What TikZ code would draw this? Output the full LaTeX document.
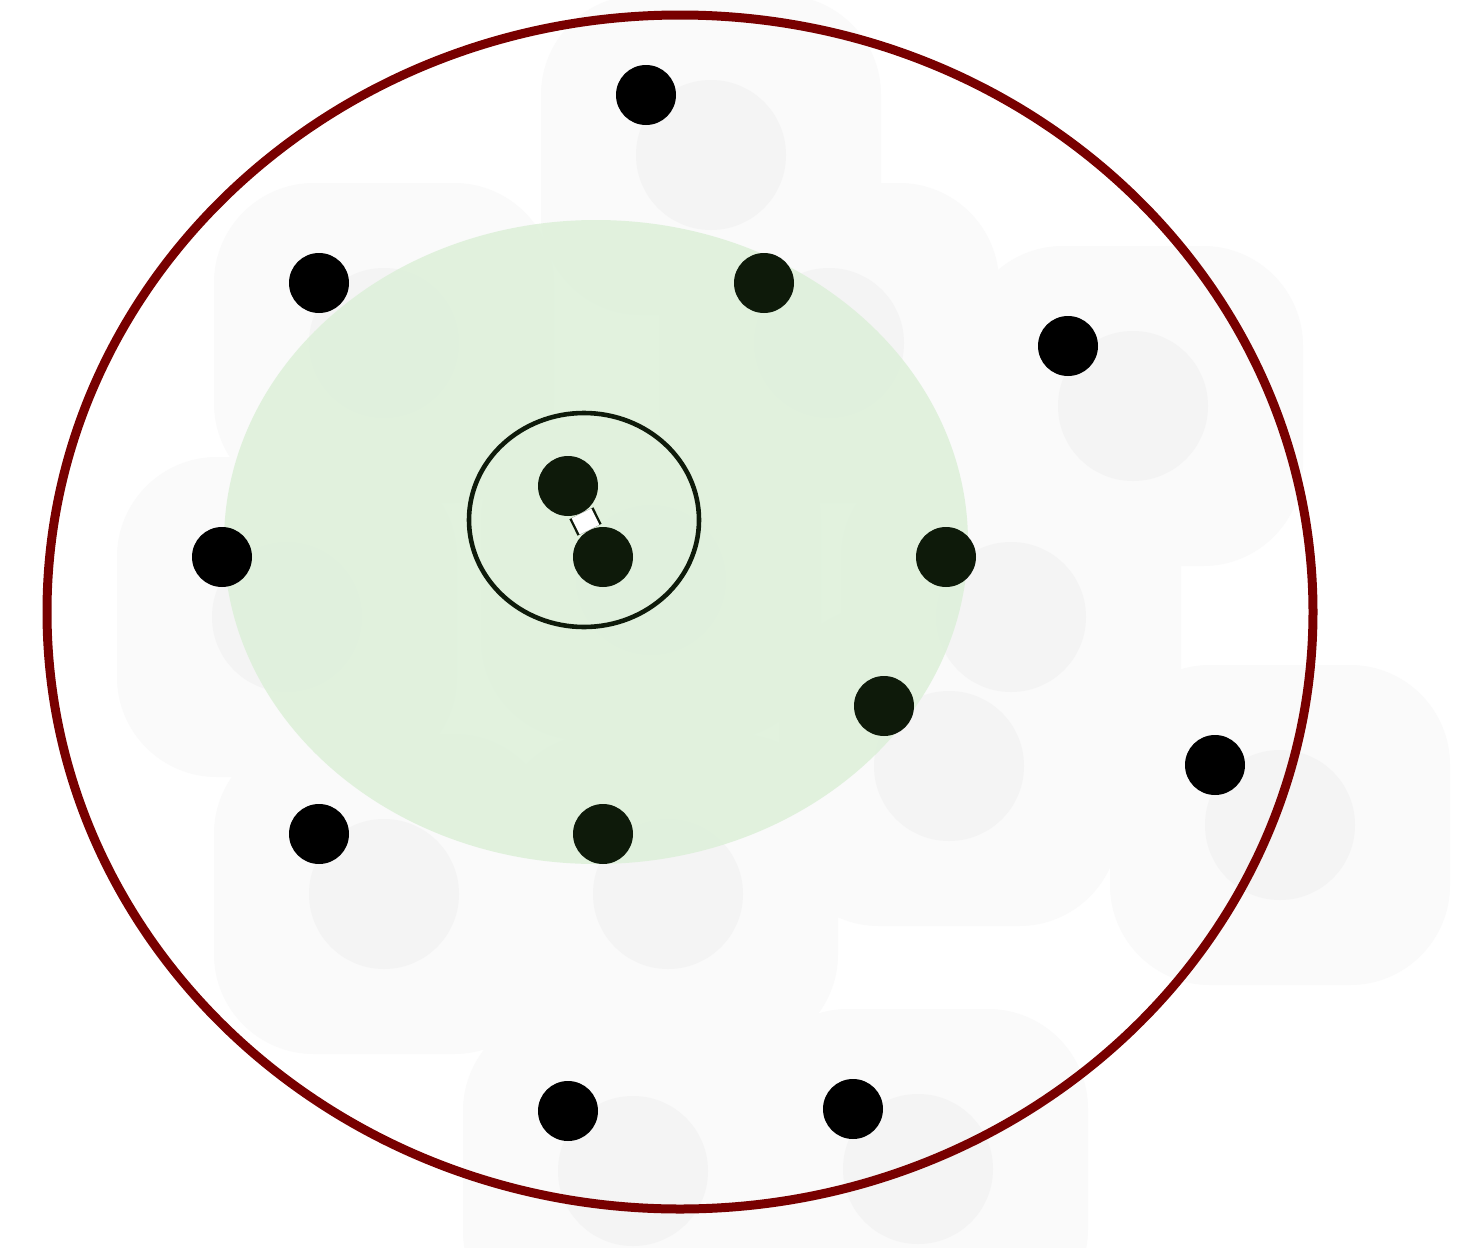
\documentclass[tikz,border=0pt]{standalone}
\begin{document}
\begin{tikzpicture}[x=0.5pt,y=-0.5pt]
\definecolor{ringred}{RGB}{120,0,0}
\definecolor{greenfill}{RGB}{221,240,217}
\definecolor{dotgreen}{RGB}{14,26,10}
\definecolor{shadeout}{RGB}{250,250,250}
\definecolor{shadein}{RGB}{244,244,244}
\tikzset{
  blackdot/.style={circle,fill=black,inner sep=0pt,minimum size=30pt},
  greendot/.style={circle,fill=dotgreen,inner sep=0pt,minimum size=30pt},
  shadowbox/.style={fill=shadeout,rounded corners=50pt},
  shadowdisc/.style={fill=shadein},
}
\fill[white] (0,0) rectangle (1474,1248);
\useasboundingbox (0,0) rectangle (1474,1248);
% faint shadows
\foreach \x/\y in {646/95,319/283,764/283,1068/346,222/557,946/557,884/706,1215/765,319/834,603/834,568/1111,853/1109,586/520}{
  \fill[shadowbox] (\x-105,\y-100) rectangle (\x+235,\y+220);
}
\foreach \x/\y in {646/95,319/283,764/283,1068/346,222/557,946/557,884/706,1215/765,319/834,603/834,568/1111,853/1109,586/520}{
  \fill[shadowdisc] (\x+65,\y+60) circle (75);
}
% green region
\fill[greenfill,opacity=0.85] (596,542) ellipse (372 and 322);
% outer ring
\draw[ringred,line width=4.5pt] (680,612) ellipse (633 and 597);
% inner circle
\draw[dotgreen,line width=2.3pt] (584,520) ellipse (115 and 107);
% dots
\node[blackdot] (d1) at (646,95) {};
\node[blackdot] (d2) at (319,283) {};
\node[greendot] (d3) at (764,283) {};
\node[blackdot] (d4) at (1068,346) {};
\node[blackdot] (d5) at (222,557) {};
\node[greendot] (d6) at (946,557) {};
\node[greendot] (d7) at (884,706) {};
\node[blackdot] (d8) at (1215,765) {};
\node[blackdot] (d9) at (319,834) {};
\node[greendot] (d10) at (603,834) {};
\node[blackdot] (d11) at (568,1111) {};
\node[blackdot] (d12) at (853,1109) {};
\node[greendot] (a) at (568,486) {};
\node[greendot] (b) at (603,557) {};
\draw[dotgreen,line width=1.2pt,double=white,double distance=11pt] (a) -- (b);
\end{tikzpicture}
\end{document}
